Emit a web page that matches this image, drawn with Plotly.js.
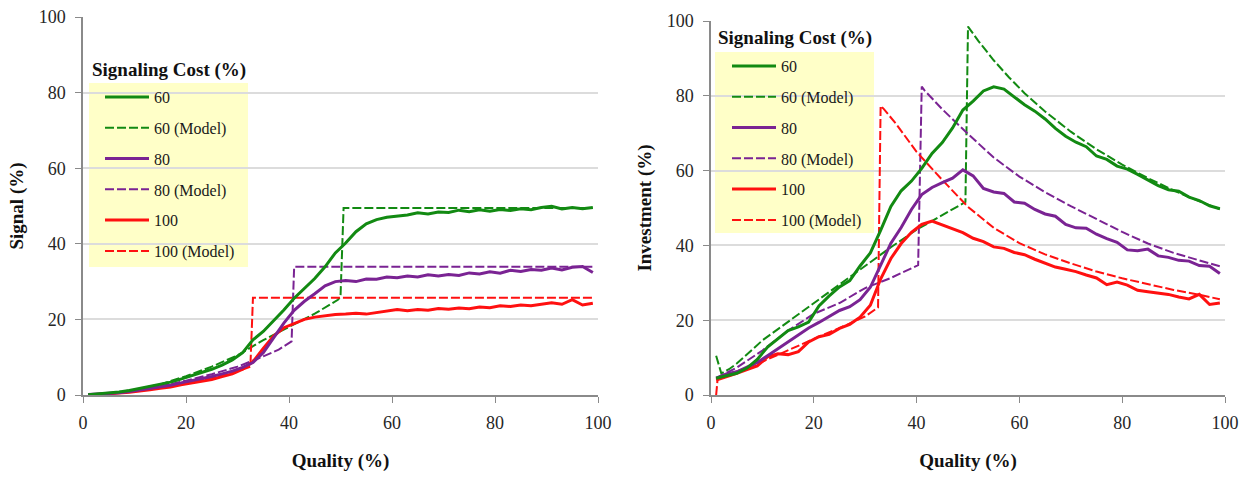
<!DOCTYPE html>
<html><head><meta charset="utf-8">
<script src="https://cdn.plot.ly/plotly-3.0.1.min.js"></script>
<style>html,body{margin:0;padding:0;background:#fff;} #chart{width:1255px;height:477px;}</style>
</head><body><div id="chart"></div><script>
// ---------- data ----------
const seriesNames = ["60", "60 (Model)", "80", "80 (Model)", "100", "100 (Model)"];
const legendTitle = "Signaling Cost (%)";
const xTitle = "Quality (%)";
const yTitleLeft = "Signal (%)";
const yTitleRight = "Investment (%)";
const tickVals = [0, 20, 40, 60, 80, 100];

// simulated quality grid
const quality = [1,3,5,7,9,11,13,15,17,19,21,23,25,27,29,31,33,35,37,39,41,43,45,47,49,51,53,55,57,59,61,63,65,67,69,71,73,75,77,79,81,83,85,87,89,91,93,95,97,99];

// ----- Signal (left) -----
const signal60 = [0.1,0.3,0.5,0.8,1.2,1.7,2.2,2.8,3.4,4.2,5.0,5.9,6.8,7.9,9.3,11.2,14.6,16.8,19.6,22.5,25.6,28.2,30.8,33.9,37.6,40.2,43.2,45.3,46.4,47.0,47.4,47.6,48.2,47.9,48.4,48.3,48.9,48.5,49.0,48.6,49.1,48.8,49.3,49.0,49.6,49.9,49.2,49.6,49.3,49.6];
const signal80 = [0.1,0.2,0.4,0.6,0.9,1.3,1.7,2.1,2.6,3.2,3.7,4.2,4.9,5.6,6.3,7.3,8.6,11.2,15.2,19.0,22.4,24.8,26.8,28.9,30.0,30.3,30.0,30.7,30.6,31.2,31.0,31.5,31.2,31.8,31.5,31.9,31.6,32.3,32.0,32.6,32.2,33.0,32.7,33.2,33.0,33.6,33.1,33.8,34.0,32.4];
const signal100 = [0.0,0.1,0.3,0.5,0.7,1.0,1.4,1.8,2.1,2.7,3.2,3.6,4.1,4.9,5.6,6.8,8.8,12.3,15.6,17.8,19.0,20.0,20.6,21.0,21.3,21.4,21.6,21.4,21.8,22.2,22.6,22.3,22.6,22.4,22.9,22.7,23.0,22.8,23.3,23.1,23.6,23.4,23.8,23.6,24.1,24.4,24.0,25.2,23.8,24.3];

const signal60ModelX = [1,5,10,15,20,25,30,33,35,40,45,49.5,50,50.6,99];
const signal60ModelY = [0.1,0.4,1.4,2.8,5.0,7.5,10.5,13.0,14.5,18.0,21.5,25.2,26.0,49.5,49.5];
const signal80ModelX = [1,5,10,15,20,25,30,33,35,38,40.5,41,41.5,99];
const signal80ModelY = [0.1,0.4,1.2,2.3,3.8,5.5,7.5,9.0,10.2,12.0,14.2,33.9,33.9,33.9];
const signal100ModelX = [1,5,10,15,20,25,30,32.5,33,33.5,99];
const signal100ModelY = [0.0,0.3,1.0,2.0,3.2,4.6,6.3,7.5,25.7,25.7,25.7];

// ----- Investment (right) -----
const invest60 = [4.5,5.2,5.8,7.2,9.5,12.8,15.0,17.2,18.2,19.5,23.8,26.5,28.9,30.6,34.5,38.0,44.0,50.4,54.6,57.2,60.6,64.6,67.5,71.4,76.2,78.6,81.3,82.4,81.8,79.8,77.6,75.9,73.8,71.3,69.2,67.6,66.4,63.9,63.0,61.2,60.4,59.0,57.6,56.0,54.9,54.5,52.9,52.0,50.6,49.8];
const invest80 = [4.5,5.6,6.2,7.4,8.7,10.5,12.4,14.3,16.0,17.9,19.4,21.0,22.6,23.6,25.5,28.8,34.5,40.6,44.8,49.6,53.6,55.5,56.8,58.0,60.2,58.6,55.2,54.3,53.9,51.6,51.3,49.6,48.4,47.8,45.6,44.7,44.6,43.0,41.8,40.8,38.8,38.6,39.0,37.2,36.8,36.0,35.8,34.6,34.4,32.5];
const invest100 = [4.0,4.8,5.8,6.8,7.8,10.2,11.0,10.8,11.6,14.2,15.6,16.2,17.8,18.9,20.8,24.0,31.0,36.5,40.5,43.5,45.6,46.5,45.5,44.6,43.4,41.9,41.0,39.6,39.2,38.1,37.5,36.3,35.2,34.2,33.6,33.0,32.1,31.3,29.5,30.2,29.4,28.0,27.6,27.2,26.9,26.2,25.7,26.9,24.2,24.6];

const invest60ModelX = [1,2,3.5,5,10,15,20,25,30,35,40,45,49.5,50,52,55,58,61,65,70,75,80,85,90,95,99];
const invest60ModelY = [10.5,5.8,6.9,8.4,14.6,19.6,24.5,29.4,34.6,39.5,44.2,48.0,51.6,98.5,94.7,89.5,84.9,80.7,75.8,70.4,65.7,61.6,58.0,54.7,51.8,49.7];
const invest80ModelX = [1,3,5,10,15,20,25,30,35,40.3,41,41.5,45,50,55,60,65,70,75,80,85,90,95,99];
const invest80ModelY = [4.5,6.0,7.3,11.9,17.2,21.7,24.6,28.6,31.3,34.7,82.5,81.5,76.4,69.8,63.5,58.4,54.2,50.5,47.0,43.6,40.5,38.0,36.0,34.4];
const invest100ModelX = [1,1.3,3,5,10,15,20,25,30,32.5,33,33.6,36,40,45,50,55,60,65,70,75,80,85,90,95,99];
const invest100ModelY = [0.0,4.5,5.4,6.3,8.9,12.0,15.0,17.9,21.0,23.4,77.3,76.5,72.5,65.0,57.5,50.3,44.7,40.6,37.6,35.2,33.0,31.2,29.6,28.1,26.8,25.6];

// ---------- styles ----------
const colors = {"60": "#128a12", "80": "#7a2393", "100": "#ff1010"};
const serif = "Liberation Serif";
const modelDash = "9px,3px";

function solid(x, y, name, color, xa, ya, leg, rank) {
  return {type: "scatter", mode: "lines", x: x, y: y, name: name, xaxis: xa, yaxis: ya,
    legend: leg, legendgroup: leg + "g" + rank, legendrank: rank,
    line: {color: color, width: 3}, hoverinfo: "x+y+name"};
}
function model(x, y, name, color, xa, ya, leg, rank) {
  return {type: "scatter", mode: "lines", x: x, y: y, name: name, xaxis: xa, yaxis: ya,
    legend: leg, legendgroup: leg + "g" + rank, legendrank: rank,
    line: {color: color, width: 2, dash: modelDash}, hoverinfo: "x+y+name"};
}

const traces = [
  model(signal60ModelX, signal60ModelY, seriesNames[1], colors["60"], "x", "y", "legend", 2),
  model(signal80ModelX, signal80ModelY, seriesNames[3], colors["80"], "x", "y", "legend", 4),
  model(signal100ModelX, signal100ModelY, seriesNames[5], colors["100"], "x", "y", "legend", 6),
  solid(quality, signal100, seriesNames[4], colors["100"], "x", "y", "legend", 5),
  solid(quality, signal80, seriesNames[2], colors["80"], "x", "y", "legend", 3),
  solid(quality, signal60, seriesNames[0], colors["60"], "x", "y", "legend", 1),

  model(invest60ModelX, invest60ModelY, seriesNames[1], colors["60"], "x2", "y2", "legend2", 2),
  model(invest80ModelX, invest80ModelY, seriesNames[3], colors["80"], "x2", "y2", "legend2", 4),
  model(invest100ModelX, invest100ModelY, seriesNames[5], colors["100"], "x2", "y2", "legend2", 6),
  solid(quality, invest100, seriesNames[4], colors["100"], "x2", "y2", "legend2", 5),
  solid(quality, invest80, seriesNames[2], colors["80"], "x2", "y2", "legend2", 3),
  solid(quality, invest60, seriesNames[0], colors["60"], "x2", "y2", "legend2", 1)
];

function xaxis(domain, anchor) {
  return {domain: domain, anchor: anchor, range: [0, 100], tickvals: tickVals, ticktext: tickVals.map(String),
    showgrid: false, zeroline: false, showline: true, linecolor: "#8a8a8a", linewidth: 1.5,
    ticks: "outside", ticklen: 6, tickcolor: "#8a8a8a", ticklabelstandoff: 5,
    tickfont: {family: serif, size: 18, color: "#262626"},
    title: {text: xTitle, font: {family: serif, size: 19, color: "#111", weight: "bold"}, standoff: 21},
    fixedrange: true};
}
function yaxis(domain, anchor, title) {
  return {domain: domain, anchor: anchor, range: [0, 100], tickvals: tickVals, ticktext: tickVals.map(String),
    showgrid: true, gridcolor: "#dcdcdc", gridwidth: 1.5, zeroline: false, showline: true, linecolor: "#8a8a8a", linewidth: 1.5,
    ticks: "outside", ticklen: 6, tickcolor: "#8a8a8a", ticklabelstandoff: 6,
    tickfont: {family: serif, size: 18, color: "#262626"},
    title: {text: title, font: {family: serif, size: 19, color: "#111", weight: "bold"}, standoff: 10},
    fixedrange: true};
}

const W = 1255, H = 477;
const px = v => v / W, py = v => 1 - v / H;

const legendCommon = {bgcolor: "rgba(0,0,0,0)", borderwidth: 0, xanchor: "left", yanchor: "top",
  font: {family: serif, size: 16, color: "#1a1a1a"}, itemwidth: 44, tracegroupgap: 7, traceorder: "grouped"};

const layout = {
  width: W, height: H, margin: {l: 0, r: 0, t: 0, b: 0},
  paper_bgcolor: "#ffffff", plot_bgcolor: "#ffffff", showlegend: true,
  xaxis: xaxis([px(83), px(598)], "y"),
  yaxis: yaxis([py(395), py(17)], "x", yTitleLeft),
  xaxis2: xaxis([px(711), px(1225)], "y2"),
  yaxis2: yaxis([py(395), py(21)], "x2", yTitleRight),
  legend: Object.assign({}, legendCommon, {x: px(100), y: py(80)}),
  legend2: Object.assign({}, legendCommon, {x: px(727), y: py(49)}),
  shapes: [
    {type: "rect", xref: "paper", yref: "paper", x0: px(89), x1: px(248), y0: py(267), y1: py(83),
     fillcolor: "#ffffc8", line: {width: 0}, layer: "below"},
    {type: "rect", xref: "paper", yref: "paper", x0: px(715), x1: px(874), y0: py(233), y1: py(52),
     fillcolor: "#ffffc8", line: {width: 0}, layer: "below"}
  ],
  annotations: [
    {text: legendTitle, xref: "paper", yref: "paper", x: px(90), y: py(70), xanchor: "left", yanchor: "middle",
     showarrow: false, font: {family: serif, size: 19, color: "#111", weight: "bold"}},
    {text: legendTitle, xref: "paper", yref: "paper", x: px(716), y: py(38), xanchor: "left", yanchor: "middle",
     showarrow: false, font: {family: serif, size: 19, color: "#111", weight: "bold"}}
  ]
};

Plotly.newPlot("chart", traces, layout, {displayModeBar: false, staticPlot: false, responsive: false});
</script></body></html>
